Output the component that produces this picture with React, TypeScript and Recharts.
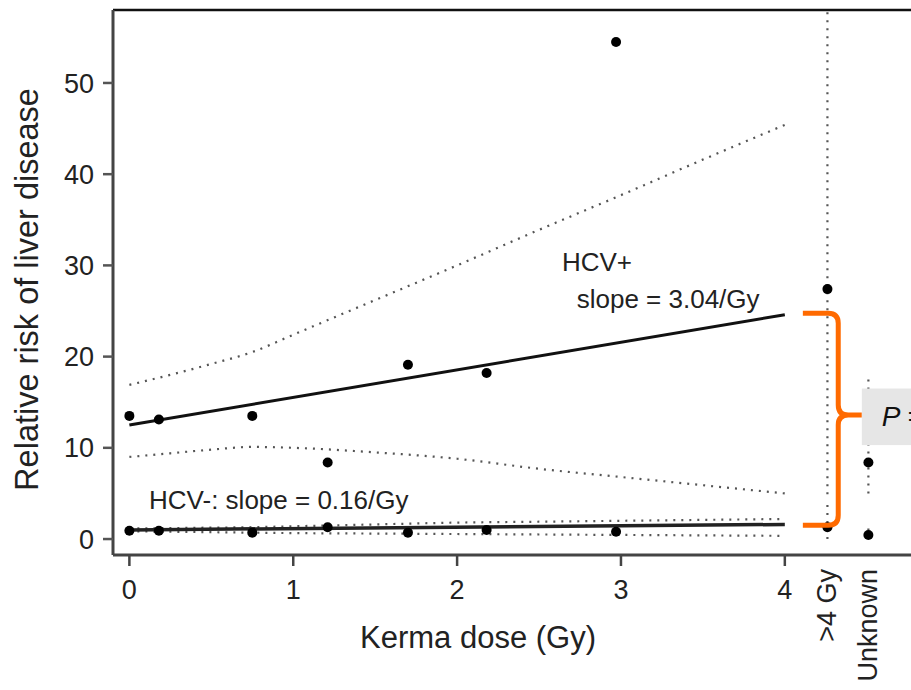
import {
  ComposedChart,
  Line,
  Scatter,
  XAxis,
  YAxis,
  ReferenceLine,
  ReferenceArea,
  ReferenceDot,
} from "recharts";

// doses (Gy) of the grouped categories
const doseGy = [0, 0.18, 0.75, 1.21, 1.7, 2.18, 2.97];
// extra categories placed to the right of the dose scale
const catPos = [4.26, 4.51];
const xTickValues = [0, 1, 2, 3, 4, 4.26, 4.51];
const xTickLabels = ["0", "1", "2", "3", "4", ">4 Gy", "Unknown"];
const yTickValues = [0, 10, 20, 30, 40, 50];

// relative risk, HCV+ and HCV-
const hcvPosRR = [13.5, 13.1, 13.5, 8.4, 19.1, 18.2, 54.5];
const hcvPosCatRR = [27.4, 8.4];
const hcvNegRR = [0.9, 0.9, 0.7, 1.3, 0.7, 1.0, 0.8];
const hcvNegCatRR = [1.3, 0.45];

// fitted linear trends
const fitDose = [0, 4];
const hcvPosFit = [12.5, 24.6];
const hcvNegFit = [1.0, 1.6];

// confidence bands of the fits
const ciDose = [0, 0.25, 0.5, 0.75, 1, 1.5, 2, 2.5, 3, 3.5, 4];
const hcvPosUpper = [16.9, 18.0, 19.2, 20.5, 22.4, 26.2, 30.0, 33.9, 37.7, 41.6, 45.4];
const hcvPosLower = [9.0, 9.4, 9.8, 10.1, 10.0, 9.5, 8.8, 7.7, 6.8, 5.9, 5.0];
const hcvNegUpper = [1.15, 1.2, 1.25, 1.3, 1.4, 1.6, 1.8, 1.9, 2.0, 2.1, 2.2];
const hcvNegLower = [0.85, 0.8, 0.75, 0.7, 0.65, 0.6, 0.55, 0.5, 0.45, 0.4, 0.35];

// confidence intervals of the extra categories
const catPosLow = [4.9, 5.0];
const catPosHigh = [58, 18.0];
const catNegLow = [0.0, 0.05];
const catNegHigh = [3.9, 1.2];

const FONT = '"Liberation Sans", Arial, Helvetica, sans-serif';
const INK = "#222";

const toPts = (xs: number[], ys: number[]) => xs.map((x, i) => ({ x, y: ys[i] }));

const posPoints = [...toPts(doseGy, hcvPosRR), ...toPts(catPos, hcvPosCatRR)];
const negPoints = [...toPts(doseGy, hcvNegRR), ...toPts(catPos, hcvNegCatRR)];

const dotted = {
  stroke: "#555",
  strokeWidth: 2.2,
  strokeDasharray: "2 6",
  dot: false,
  activeDot: false,
  isAnimationActive: false,
} as const;

function DoseTick(props: any) {
  const { x, y, payload } = props;
  const idx = xTickValues.indexOf(payload.value);
  const label = xTickLabels[idx];
  if (idx >= 5) {
    return (
      <text
        x={x}
        y={y - 3}
        transform={`rotate(-90 ${x} ${y - 3})`}
        textAnchor="end"
        dominantBaseline="central"
        fontSize={27}
        fontFamily={FONT}
        fill={INK}
      >
        {label}
      </text>
    );
  }
  return (
    <g>
      <line x1={x} x2={x} y1={y - 17} y2={y - 6} stroke="#444" strokeWidth={2.5} />
      <text
        x={x}
        y={y + 8}
        dy="0.71em"
        textAnchor="middle"
        fontSize={27}
        fontFamily={FONT}
        fill={INK}
      >
        {label}
      </text>
    </g>
  );
}

function Brace(props: any) {
  const { x, y, width, height } = props;
  const xs = x + width * 0.6;
  const x1 = x + width;
  const ym = y + height * 0.48;
  const r = 10;
  const d = [
    `M ${x} ${y}`,
    `L ${xs - r} ${y}`,
    `Q ${xs} ${y} ${xs} ${y + r}`,
    `L ${xs} ${ym - r}`,
    `Q ${xs} ${ym} ${xs + r} ${ym}`,
    `L ${x1} ${ym}`,
    `M ${xs + r} ${ym}`,
    `Q ${xs} ${ym} ${xs} ${ym + r}`,
    `L ${xs} ${y + height - r}`,
    `Q ${xs} ${y + height} ${xs - r} ${y + height}`,
    `L ${x} ${y + height}`,
  ].join(" ");
  return <path d={d} fill="none" stroke="#ff6a00" strokeWidth={5} />;
}

function PBox(props: any) {
  const { x, y, width, height } = props;
  return (
    <g>
      <rect x={x} y={y} width={width} height={height} fill="#e6e6e6" />
      <text
        x={x + 20}
        y={y + height / 2}
        dominantBaseline="central"
        fontSize={28}
        fontStyle="italic"
        fontFamily={FONT}
        fill="#111"
      >
        P =
      </text>
    </g>
  );
}

const note = (text: string) => (p: any) =>
  (
    <text
      x={p.cx}
      y={p.cy}
      dominantBaseline="central"
      fontSize={26}
      fontFamily={FONT}
      fill={INK}
    >
      {text}
    </text>
  );

const blackDot = (p: any) => <circle cx={p.cx} cy={p.cy} r={5} fill="#000" />;

export default function App() {
  return (
    <div
      style={{
        position: "absolute",
        left: 0,
        top: 0,
        width: 911,
        height: 690,
        background: "#fff",
        fontFamily: FONT,
      }}
    >
      <ComposedChart
        width={911}
        height={690}
        margin={{ top: 10, right: 0, bottom: 0, left: 0 }}
      >
        <XAxis
          type="number"
          dataKey="x"
          domain={[-0.1, 4.77]}
          ticks={xTickValues}
          interval={0}
          allowDataOverflow
          height={135}
          tickSize={11}
          tickMargin={6}
          tickLine={false}
          axisLine={{ stroke: "#444", strokeWidth: 3 }}
          tick={<DoseTick />}
          label={{
            content: (p: any) => {
              const vb = p.viewBox || { x: 113, y: 555 };
              return (
                <text
                  x={vb.x + 365}
                  y={vb.y + 82}
                  textAnchor="middle"
                  dominantBaseline="central"
                  fontSize={31}
                  fontFamily={FONT}
                  fill={INK}
                >
                  Kerma dose (Gy)
                </text>
              );
            },
          }}
        />
        <YAxis
          type="number"
          dataKey="y"
          domain={[-1.75, 58]}
          ticks={yTickValues}
          allowDataOverflow
          width={113}
          tickSize={10}
          tickMargin={9}
          tickLine={{ stroke: "#555", strokeWidth: 2.5 }}
          axisLine={{ stroke: "#444", strokeWidth: 3 }}
          tick={{ fontSize: 27, fill: INK, fontFamily: FONT }}
          label={{
            content: (p: any) => {
              const vb = p.viewBox || { x: 0, y: 10, height: 545 };
              const cx = vb.x + 27;
              const cy = vb.y + vb.height / 2 + 7;
              return (
                <text
                  x={cx}
                  y={cy}
                  transform={`rotate(-90 ${cx} ${cy})`}
                  textAnchor="middle"
                  dominantBaseline="central"
                  fontSize={32.5}
                  fontFamily={FONT}
                  fill={INK}
                >
                  Relative risk of liver disease
                </text>
              );
            },
          }}
        />

        <ReferenceLine y={58} stroke="#111" strokeWidth={2.5} />

        {/* confidence bands */}
        <Line data={toPts(ciDose, hcvPosUpper)} dataKey="y" type="monotone" {...dotted} />
        <Line data={toPts(ciDose, hcvPosLower)} dataKey="y" type="monotone" {...dotted} />
        <Line data={toPts(ciDose, hcvNegUpper)} dataKey="y" type="monotone" {...dotted} />
        <Line data={toPts(ciDose, hcvNegLower)} dataKey="y" type="monotone" {...dotted} />
        {catPos.map((c, i) => (
          <Line
            key={`cp${i}`}
            data={toPts([c, c], [catPosLow[i], catPosHigh[i]])}
            dataKey="y"
            type="linear"
            {...dotted}
          />
        ))}
        {catPos.map((c, i) => (
          <Line
            key={`cn${i}`}
            data={toPts([c, c], [catNegLow[i], catNegHigh[i]])}
            dataKey="y"
            type="linear"
            {...dotted}
          />
        ))}

        {/* fitted trends */}
        <Line
          data={toPts(fitDose, hcvPosFit)}
          dataKey="y"
          type="linear"
          stroke="#111"
          strokeWidth={3}
          dot={false}
          activeDot={false}
          isAnimationActive={false}
        />
        <Line
          data={toPts(fitDose, hcvNegFit)}
          dataKey="y"
          type="linear"
          stroke="#222"
          strokeWidth={3.5}
          dot={false}
          activeDot={false}
          isAnimationActive={false}
        />

        <Scatter data={posPoints} dataKey="y" isAnimationActive={false} shape={blackDot} />
        <Scatter data={negPoints} dataKey="y" isAnimationActive={false} shape={blackDot} />

        <ReferenceDot x={2.64} y={30.4} r={0} shape={note("HCV+")} />
        <ReferenceDot x={2.73} y={26.3} r={0} shape={note("slope = 3.04/Gy")} />
        <ReferenceDot x={0.12} y={4.3} r={0} shape={note("HCV-: slope = 0.16/Gy")} />

        <ReferenceArea x1={4.11} x2={4.47} y1={1.5} y2={24.75} shape={<Brace />} zIndex={900} />
        <ReferenceArea x1={4.47} x2={4.77} y1={10.3} y2={16.5} shape={<PBox />} zIndex={900} />
      </ComposedChart>
    </div>
  );
}
